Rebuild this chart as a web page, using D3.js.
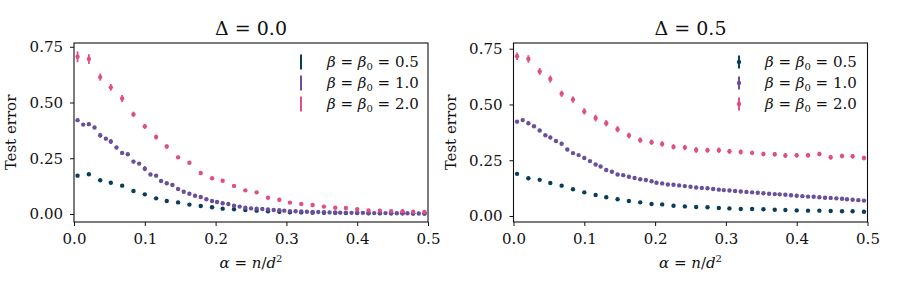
<!DOCTYPE html>
<html>
<head>
<meta charset="utf-8">
<script src="https://cdn.jsdelivr.net/npm/d3@7"></script>
<style>
  body { margin: 0; background: #fff; }
  svg text { font-family: "DejaVu Serif", "Times New Roman", "Liberation Serif", serif; fill: #111; }
</style>
</head>
<body>
<div id="chart"></div>
<script>
// alpha grids (coarse: 32 points, fine: 63 points)
let alphaCoarse = [0.005, 0.021, 0.037, 0.052, 0.068, 0.084, 0.100, 0.116, 0.131, 0.147, 0.163, 0.179, 0.195, 0.210, 0.226, 0.242,
    0.258, 0.274, 0.290, 0.305, 0.321, 0.337, 0.353, 0.369, 0.384, 0.400, 0.416, 0.432, 0.448, 0.464, 0.479, 0.495];
let alphaFine = [0.005, 0.013, 0.021, 0.029, 0.037, 0.045, 0.052, 0.060, 0.068, 0.076, 0.084, 0.092, 0.100, 0.108, 0.116, 0.123,
    0.131, 0.139, 0.147, 0.155, 0.163, 0.171, 0.179, 0.187, 0.195, 0.202, 0.210, 0.218, 0.226, 0.234, 0.242, 0.250,
    0.258, 0.266, 0.274, 0.282, 0.290, 0.297, 0.305, 0.313, 0.321, 0.329, 0.337, 0.345, 0.353, 0.361, 0.369, 0.376,
    0.384, 0.392, 0.400, 0.408, 0.416, 0.424, 0.432, 0.440, 0.448, 0.456, 0.464, 0.471, 0.479, 0.487, 0.495];

// Delta = 0.0
let teal0 = [0.172, 0.178, 0.151, 0.140, 0.127, 0.103, 0.088, 0.070, 0.058, 0.052, 0.042, 0.036, 0.030, 0.024, 0.021, 0.018,
    0.015, 0.012, 0.010, 0.008, 0.007, 0.006, 0.005, 0.005, 0.004, 0.004, 0.003, 0.003, 0.003, 0.003, 0.002, 0.002];
let teal0Err = [0.004, 0.004, 0.004, 0.003, 0.003, 0.003, 0.003, 0.003, 0.002, 0.002, 0.002, 0.002, 0.002, 0.002, 0.002, 0.002,
    0.002, 0.002, 0.002, 0.002, 0.002, 0.002, 0.002, 0.002, 0.002, 0.002, 0.002, 0.002, 0.002, 0.002, 0.002, 0.002];
let purple0 = [0.421, 0.401, 0.403, 0.388, 0.353, 0.338, 0.325, 0.298, 0.274, 0.268, 0.235, 0.226, 0.203, 0.177, 0.172, 0.148,
    0.138, 0.130, 0.112, 0.100, 0.091, 0.082, 0.076, 0.066, 0.058, 0.054, 0.048, 0.045, 0.037, 0.033, 0.028, 0.025,
    0.024, 0.022, 0.020, 0.018, 0.017, 0.015, 0.013, 0.012, 0.011, 0.010, 0.009, 0.009, 0.008, 0.007, 0.007, 0.006,
    0.006, 0.005, 0.005, 0.005, 0.004, 0.004, 0.004, 0.004, 0.003, 0.003, 0.003, 0.003, 0.003, 0.002, 0.002];
let purple0Err = [0.006, 0.006, 0.008, 0.006, 0.011, 0.006, 0.011, 0.005, 0.007, 0.005, 0.008, 0.005, 0.011, 0.005, 0.007, 0.004,
    0.005, 0.004, 0.006, 0.004, 0.004, 0.004, 0.004, 0.003, 0.004, 0.003, 0.003, 0.003, 0.003, 0.003, 0.003, 0.003,
    0.003, 0.003, 0.003, 0.003, 0.003, 0.002, 0.002, 0.002, 0.002, 0.002, 0.002, 0.002, 0.002, 0.002, 0.002, 0.002,
    0.002, 0.002, 0.002, 0.002, 0.002, 0.002, 0.002, 0.002, 0.002, 0.002, 0.002, 0.002, 0.002, 0.002, 0.002];
let pink0 = [0.705, 0.695, 0.614, 0.568, 0.518, 0.447, 0.393, 0.345, 0.303, 0.254, 0.230, 0.184, 0.160, 0.149, 0.126, 0.106,
    0.097, 0.073, 0.064, 0.051, 0.045, 0.040, 0.033, 0.028, 0.027, 0.021, 0.016, 0.015, 0.013, 0.012, 0.010, 0.009];
let pink0Err = [0.024, 0.022, 0.016, 0.015, 0.016, 0.012, 0.011, 0.011, 0.009, 0.007, 0.007, 0.006, 0.005, 0.005, 0.004, 0.004,
    0.004, 0.003, 0.003, 0.003, 0.003, 0.003, 0.003, 0.003, 0.003, 0.003, 0.003, 0.003, 0.003, 0.003, 0.003, 0.003];

// Delta = 0.5
let teal5 = [0.189, 0.169, 0.162, 0.148, 0.136, 0.120, 0.106, 0.094, 0.084, 0.075, 0.067, 0.061, 0.054, 0.052, 0.046, 0.043,
    0.040, 0.039, 0.036, 0.034, 0.031, 0.031, 0.030, 0.028, 0.027, 0.025, 0.024, 0.024, 0.022, 0.021, 0.021, 0.019];
let teal5Err = [0.004, 0.004, 0.003, 0.003, 0.003, 0.003, 0.003, 0.003, 0.003, 0.003, 0.002, 0.002, 0.002, 0.002, 0.002, 0.002,
    0.002, 0.002, 0.002, 0.002, 0.002, 0.002, 0.002, 0.002, 0.002, 0.002, 0.002, 0.002, 0.002, 0.002, 0.002, 0.002];
let purple5 = [0.423, 0.430, 0.416, 0.402, 0.383, 0.362, 0.352, 0.336, 0.324, 0.298, 0.282, 0.273, 0.260, 0.246, 0.231, 0.222,
    0.206, 0.198, 0.186, 0.183, 0.176, 0.170, 0.165, 0.161, 0.156, 0.149, 0.146, 0.141, 0.140, 0.137, 0.134, 0.131,
    0.128, 0.126, 0.124, 0.121, 0.118, 0.116, 0.114, 0.112, 0.110, 0.108, 0.106, 0.104, 0.102, 0.100, 0.098, 0.097,
    0.095, 0.093, 0.091, 0.089, 0.087, 0.086, 0.084, 0.082, 0.081, 0.079, 0.077, 0.075, 0.073, 0.071, 0.069];
let purple5Err = [0.005, 0.006, 0.008, 0.005, 0.005, 0.006, 0.005, 0.004, 0.005, 0.004, 0.004, 0.004, 0.004, 0.004, 0.004, 0.004,
    0.004, 0.003, 0.003, 0.003, 0.003, 0.003, 0.003, 0.003, 0.003, 0.003, 0.003, 0.003, 0.003, 0.003, 0.003, 0.003,
    0.003, 0.003, 0.003, 0.003, 0.003, 0.003, 0.003, 0.003, 0.003, 0.003, 0.003, 0.003, 0.003, 0.003, 0.003, 0.003,
    0.003, 0.003, 0.003, 0.003, 0.003, 0.003, 0.003, 0.003, 0.003, 0.003, 0.003, 0.003, 0.003, 0.003, 0.003];
let pink5 = [0.716, 0.704, 0.648, 0.614, 0.548, 0.522, 0.469, 0.439, 0.416, 0.389, 0.361, 0.340, 0.331, 0.323, 0.310, 0.307,
    0.296, 0.295, 0.295, 0.290, 0.287, 0.283, 0.278, 0.277, 0.271, 0.272, 0.272, 0.278, 0.263, 0.269, 0.268, 0.260];
let pink5Err = [0.017, 0.017, 0.015, 0.016, 0.014, 0.014, 0.014, 0.015, 0.014, 0.014, 0.012, 0.012, 0.012, 0.012, 0.012, 0.012,
    0.013, 0.011, 0.012, 0.011, 0.011, 0.010, 0.010, 0.010, 0.011, 0.010, 0.010, 0.010, 0.010, 0.010, 0.010, 0.010];

let xTicks = [0, 0.1, 0.2, 0.3, 0.4, 0.5];
let yTicks = [0, 0.25, 0.5, 0.75];
let betaLabels = ['0.5', '1.0', '2.0'];
let colors = ['#0a3d5b', '#6a4f9c', '#de4f8a'];

let fontFam = '"DejaVu Serif", "Times New Roman", "Liberation Serif", serif';
let sizes = {width: 898, height: 293, plotW: 354, top: 43, bottom: 222};

let svg = d3.select('#chart').append('svg')
    .attr('width', sizes.width)
    .attr('height', sizes.height)
    .attr('font-family', fontFam);

drawPanel({
    left: 74, title: '0.0', yDomain: [-0.036, 0.767], legendDot: false, legendX: 301,
    series: [
        {x: alphaCoarse, y: teal0, e: teal0Err},
        {x: alphaFine, y: purple0, e: purple0Err},
        {x: alphaCoarse, y: pink0, e: pink0Err}
    ]
});
drawPanel({
    left: 513.5, title: '0.5', yDomain: [-0.027, 0.7756], legendDot: true, legendX: 739,
    series: [
        {x: alphaCoarse, y: teal5, e: teal5Err},
        {x: alphaFine, y: purple5, e: purple5Err},
        {x: alphaCoarse, y: pink5, e: pink5Err}
    ]
});

function drawPanel(p) {
    let x = d3.scaleLinear().domain([0, 0.5]).range([p.left, p.left + sizes.plotW]);
    let y = d3.scaleLinear().domain(p.yDomain).range([sizes.bottom, sizes.top]);
    let g = svg.append('g');

    // series: error bars then dots
    p.series.forEach(function (s, k) {
        let pts = s.x.map((a, i) => ({a: a, v: s.y[i], e: s.e[i]}));
        let sg = g.append('g').attr('fill', colors[k]).attr('stroke', colors[k]);
        sg.selectAll('line')
            .data(pts)
            .enter().append('line')
            .attr('x1', d => x(d.a)).attr('x2', d => x(d.a))
            .attr('y1', d => y(d.v - d.e)).attr('y2', d => y(d.v + d.e))
            .attr('stroke-width', 1.8);
        sg.selectAll('circle')
            .data(pts)
            .enter().append('circle')
            .attr('cx', d => x(d.a))
            .attr('cy', d => y(d.v))
            .attr('r', 2.2)
            .attr('stroke', 'none');
    });

    // axes
    let xAxis = g.append('g')
        .attr('transform', 'translate(0,' + sizes.bottom + ')')
        .call(d3.axisBottom(x).tickValues(xTicks).tickFormat(d3.format('.1f')).tickSize(4).tickPadding(7));
    let yAxis = g.append('g')
        .attr('transform', 'translate(' + p.left + ',0)')
        .call(d3.axisLeft(y).tickValues(yTicks).tickFormat(d3.format('.2f')).tickSize(4).tickPadding(7));
    [xAxis, yAxis].forEach(function (a) {
        a.attr('font-family', fontFam);
        a.select('.domain').remove();
        a.selectAll('text').style('font-size', '15px').attr('fill', '#111');
        a.selectAll('line').attr('stroke', '#111').attr('stroke-width', 1);
    });

    g.append('rect')
        .attr('x', p.left).attr('y', sizes.top)
        .attr('width', sizes.plotW).attr('height', sizes.bottom - sizes.top)
        .attr('fill', 'none').attr('stroke', '#111').attr('stroke-width', 1.1);

    let cx = p.left + sizes.plotW / 2;

    // title
    let t = g.append('text').attr('x', cx).attr('y', 35).attr('text-anchor', 'middle').style('font-size', '19px');
    t.append('tspan').text('\u0394 = ' + p.title);

    // x label
    let xl = g.append('text').attr('x', cx).attr('y', 268).attr('text-anchor', 'middle').style('font-size', '15px');
    xl.append('tspan').style('font-style', 'italic').text('\u03b1');
    xl.append('tspan').text(' = ');
    xl.append('tspan').style('font-style', 'italic').text('n');
    xl.append('tspan').text('/');
    xl.append('tspan').style('font-style', 'italic').text('d');
    xl.append('tspan').attr('dy', -6).style('font-size', '10px').text('2');

    // y label
    g.append('text')
        .attr('transform', 'translate(' + (p.left - 58) + ',' + ((sizes.top + sizes.bottom) / 2) + ') rotate(-90)')
        .attr('text-anchor', 'middle')
        .style('font-size', '15px')
        .text('Test error');

    // legend
    let rows = [62, 83, 104];
    betaLabels.forEach(function (b, k) {
        let lg = g.append('g').attr('transform', 'translate(' + p.legendX + ',' + rows[k] + ')');
        lg.append('line')
            .attr('x1', 0).attr('x2', 0).attr('y1', p.legendDot ? -6.5 : -7.5).attr('y2', p.legendDot ? 6.5 : 7.5)
            .attr('stroke', colors[k]).attr('stroke-width', 2);
        if (p.legendDot) {
            lg.append('circle').attr('r', 2.2).attr('fill', colors[k]);
        }
        let lt = lg.append('text').attr('x', 26).attr('y', 5).style('font-size', '15px');
        lt.append('tspan').style('font-style', 'italic').text('\u03b2');
        lt.append('tspan').text(' = ');
        lt.append('tspan').style('font-style', 'italic').text('\u03b2');
        lt.append('tspan').attr('dy', 3).style('font-size', '10px').text('0');
        lt.append('tspan').attr('dy', -3).text(' = ' + b);
    });
}
</script>
</body>
</html>
